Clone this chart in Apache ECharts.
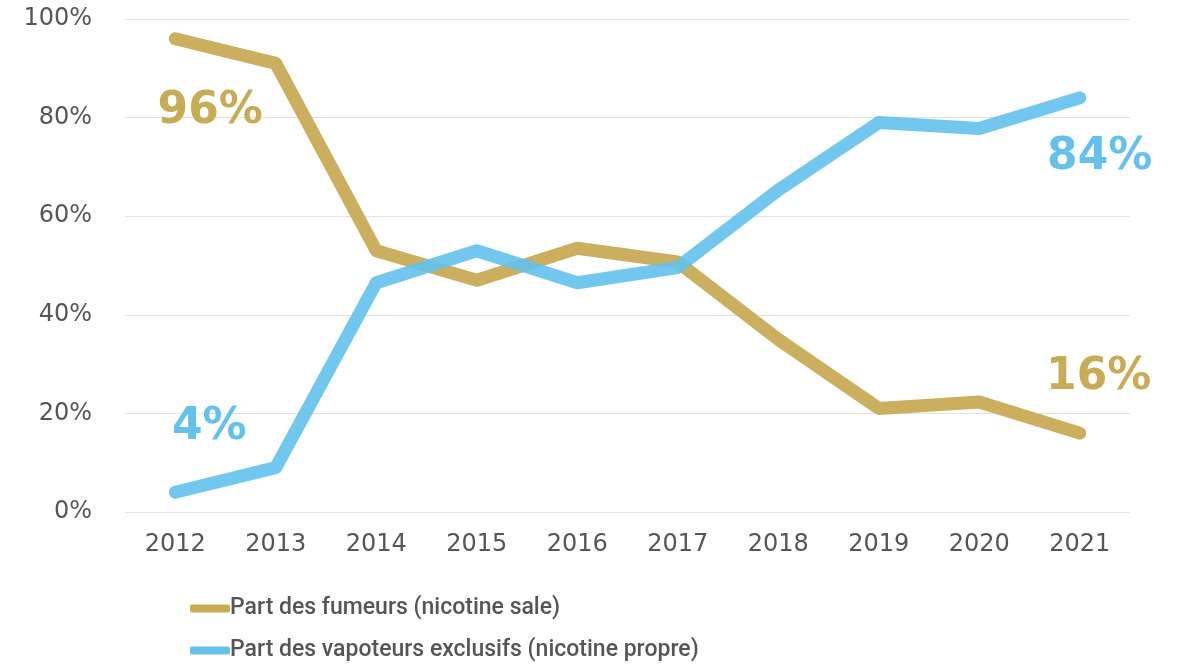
<!DOCTYPE html>
<html>
<head>
<meta charset="utf-8">
<script src="https://cdn.jsdelivr.net/npm/echarts@6/dist/echarts.min.js"></script>
<style>
  html, body { margin: 0; padding: 0; background: #ffffff; }
  #chart { width: 1178px; height: 664px; }
</style>
</head>
<body>
<div id="chart"></div>
<script>
// Years on the horizontal axis
const years = ['2012', '2013', '2014', '2015', '2016', '2017', '2018', '2019', '2020', '2021'];

// Share of smokers (%)
const smokers = [96, 91, 53, 47, 53.5, 50.7, 35, 21, 22.3, 16];

// Share of exclusive vapers (%)
const vapers = [4, 9, 46.5, 53, 46.5, 49.6, 65.3, 79, 77.8, 84];

// Y axis ticks
const yMin = 0, yMax = 100, yStep = 20;

const seriesNames = ['Part des fumeurs (nicotine sale)', 'Part des vapoteurs exclusifs (nicotine propre)'];

const GOLD = '#C8AB55';
const BLUE = '#63C1EC';

// Only the first and last points carry a big value label
function withEndLabels(values, color, firstOffset, lastOffset) {
  return values.map((v, i) => {
    if (i === 0 || i === values.length - 1) {
      return {
        value: v,
        label: {
          show: true,
          position: 'inside',
          offset: i === 0 ? firstOffset : lastOffset,
          formatter: p => Math.round(p.value) + '%',
          color: color,
          fontFamily: 'DejaVu Sans',
          fontWeight: 'bold',
          fontSize: 44
        }
      };
    }
    return v;
  });
}

const chart = echarts.init(document.getElementById('chart'), null, { renderer: 'canvas' });

chart.setOption({
  animation: false,
  backgroundColor: '#ffffff',
  grid: { left: 125, right: 48, top: 19, bottom: 152, containLabel: false },
  legend: {
    orient: 'vertical',
    left: 190,
    top: 597,
    padding: 0,
    itemGap: 19,
    itemWidth: 40,
    itemHeight: 8,
    icon: 'roundRect',
    data: [
      { name: seriesNames[0], itemStyle: { color: GOLD } },
      { name: seriesNames[1], itemStyle: { color: BLUE } }
    ],
    textStyle: {
      color: '#555555',
      fontFamily: 'Roboto',
      fontWeight: 500,
      fontSize: 23,
      lineHeight: 23,
      padding: [0, 0, 0, -5]
    }
  },
  xAxis: {
    type: 'category',
    data: years,
    boundaryGap: true,
    axisLine: { show: false },
    axisTick: { show: false },
    axisLabel: {
      color: '#555555',
      fontFamily: 'DejaVu Sans',
      fontSize: 24,
      margin: 21
    },
    splitLine: { show: false }
  },
  yAxis: {
    type: 'value',
    min: yMin,
    max: yMax,
    interval: yStep,
    axisLine: { show: false },
    axisTick: { show: false },
    axisLabel: {
      color: '#555555',
      fontFamily: 'DejaVu Sans',
      fontSize: 24,
      margin: 33,
      formatter: '{value}%'
    },
    splitLine: { lineStyle: { color: '#e2e2e2', width: 1 } }
  },
  series: [
    {
      name: seriesNames[0],
      type: 'line',
      data: withEndLabels(smokers, GOLD, [35, 73], [19, -56]),
      symbol: 'circle',
      symbolSize: 0,
      itemStyle: { color: GOLD },
      lineStyle: { color: GOLD, width: 13, cap: 'round', join: 'round', opacity: 0.95 },
      z: 2
    },
    {
      name: seriesNames[1],
      type: 'line',
      data: withEndLabels(vapers, BLUE, [34, -65], [20, 60]),
      symbol: 'circle',
      symbolSize: 0,
      itemStyle: { color: BLUE },
      lineStyle: { color: BLUE, width: 13, cap: 'round', join: 'round', opacity: 0.9 },
      z: 3
    }
  ]
});
</script>
</body>
</html>
